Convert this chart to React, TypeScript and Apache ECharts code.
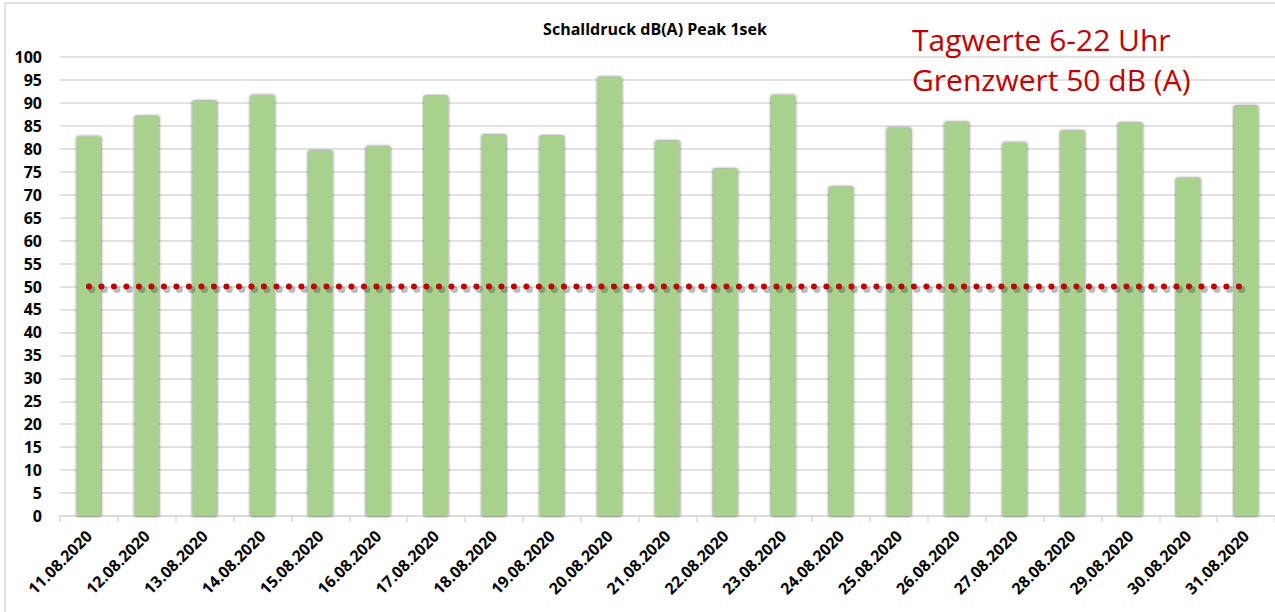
import React, { useEffect, useRef } from "react";
import * as echarts from "echarts";

const categories = [
  "11.08.2020", "12.08.2020", "13.08.2020", "14.08.2020", "15.08.2020", "16.08.2020", "17.08.2020",
  "18.08.2020", "19.08.2020", "20.08.2020", "21.08.2020", "22.08.2020", "23.08.2020", "24.08.2020",
  "25.08.2020", "26.08.2020", "27.08.2020", "28.08.2020", "29.08.2020", "30.08.2020", "31.08.2020",
];
const peakValues = [
  82.6, 87.1, 90.4, 91.6, 79.5, 80.5, 91.5, 83.0, 82.8, 95.6, 81.7,
  75.6, 91.6, 71.7, 84.5, 85.8, 81.3, 83.9, 85.6, 73.6, 89.3,
];
const limitValues = [50, 50, 50, 50, 50, 50, 50, 50, 50, 50, 50, 50, 50, 50, 50, 50, 50, 50, 50, 50, 50];
const titleText = "Schalldruck dB(A) Peak 1sek";
const noteLines = ["Tagwerte 6-22 Uhr", "Grenzwert 50 dB (A)"];

export default function App() {
  const ref = useRef<HTMLDivElement>(null);
  useEffect(() => {
    document.body.style.margin = "0";
    if (!ref.current) return;
    const chart = echarts.init(ref.current, undefined, { renderer: "svg" });
    const dotStyle = {
      width: 6,
      type: [0.01, 12.49],
      cap: "round",
    };
    chart.setOption({
      animation: false,
      backgroundColor: "#ffffff",
      title: {
        text: titleText,
        left: 650,
        top: 16,
        textAlign: "center",
        textStyle: { fontFamily: "Open Sans", fontWeight: "bold", fontSize: 16, color: "#000" },
      },
      graphic: [
        {
          type: "rect",
          shape: { x: 5, y: 3, width: 1400, height: 800 },
          style: { fill: "none", stroke: "#d9d9d9", lineWidth: 1.5 },
          silent: true,
        },
        {
          type: "text",
          x: 912,
          y: 24,
          style: { text: noteLines[0], fill: "#c00000", font: "30px 'Open Sans'" },
          z: 10,
        },
        {
          type: "text",
          x: 912,
          y: 64,
          style: { text: noteLines[1], fill: "#c00000", font: "30px 'Open Sans'" },
          z: 10,
        },
      ],
      grid: [
        { left: 60, top: 57, width: 1221, bottom: 96 },
        { left: 63, top: 60, width: 1221, bottom: 93 },
      ],
      xAxis: [
        {
          type: "category",
          data: categories,
          gridIndex: 0,
          axisLine: { lineStyle: { color: "#d9d9d9", width: 1.5 } },
          axisTick: { show: true, length: 6, lineStyle: { color: "#d9d9d9", width: 1.5 } },
          axisLabel: {
            rotate: 45,
            interval: 0,
            margin: 17,
            fontFamily: "Open Sans",
            fontWeight: "bold",
            fontSize: 16,
            color: "#000",
          },
        },
        {
          type: "category",
          data: categories,
          gridIndex: 1,
          show: false,
        },
      ],
      yAxis: [
        {
          type: "value",
          gridIndex: 0,
          min: 0,
          max: 100,
          interval: 5,
          axisLine: { show: false },
          axisTick: { show: false },
          splitLine: { lineStyle: { color: "#d9d9d9", width: 1.5 } },
          axisLabel: {
            margin: 18,
            fontFamily: "Open Sans",
            fontWeight: "bold",
            fontSize: 16,
            color: "#000",
          },
        },
        {
          type: "value",
          gridIndex: 1,
          min: 0,
          max: 100,
          interval: 5,
          show: false,
          splitLine: { show: false },
        },
      ],
      series: [
        {
          type: "bar",
          data: peakValues,
          barWidth: 24,
          itemStyle: {
            color: "#a9d18e",
            shadowColor: "rgba(0,0,0,0.75)",
            shadowBlur: 3,
            shadowOffsetX: 0,
            shadowOffsetY: 0,
          },
        },
        {
          type: "line",
          xAxisIndex: 1,
          yAxisIndex: 1,
          data: limitValues,
          symbol: "none",
          z: 4,
          lineStyle: { ...dotStyle, width: 7, color: "rgba(60,60,60,0.35)" },
        },
        {
          type: "line",
          data: limitValues,
          symbol: "none",
          z: 5,
          lineStyle: { ...dotStyle, color: "#c00000" },
        },
      ],
    });
    return () => chart.dispose();
  }, []);
  return <div ref={ref} style={{ width: 1275, height: 612 }} />;
}
